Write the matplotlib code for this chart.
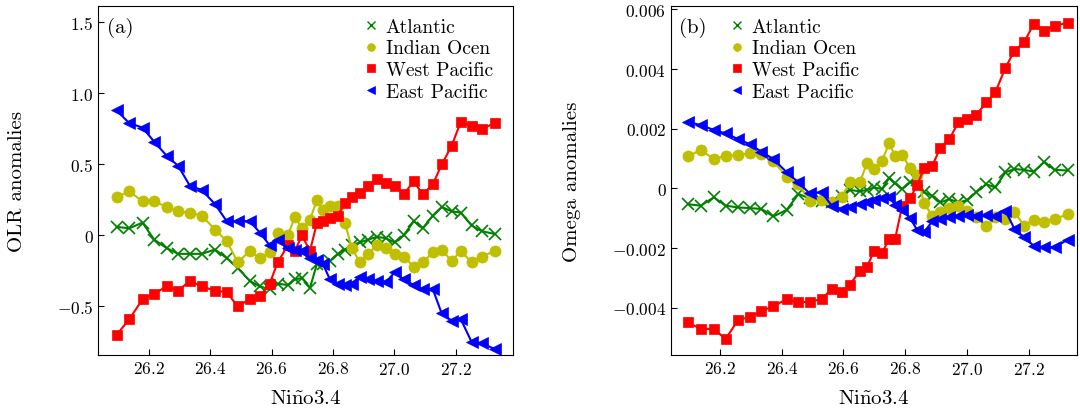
import matplotlib
matplotlib.use("Agg")
import matplotlib.pyplot as plt
from matplotlib.lines import Line2D
from matplotlib.ticker import FixedLocator, FuncFormatter

# LaTeX-like look (Computer Modern)
plt.rcParams['font.family'] = 'serif'
plt.rcParams['font.serif'] = ['cmr10']
plt.rcParams['mathtext.fontset'] = 'cm'
plt.rcParams['axes.formatter.use_mathtext'] = True
plt.rcParams['axes.unicode_minus'] = False
plt.rcParams['font.size'] = 12

# Nino3.4 bins (shared by both panels)
nino34 = [26.096, 26.137, 26.180, 26.218, 26.259, 26.296, 26.334, 26.373, 26.416, 26.454,
          26.490, 26.529, 26.562, 26.594, 26.620, 26.653, 26.676, 26.699, 26.725, 26.748,
          26.767, 26.790, 26.816, 26.839, 26.861, 26.888, 26.914, 26.943, 26.972, 27.001,
          27.030, 27.063, 27.092, 27.125, 27.154, 27.186, 27.216, 27.251, 27.284, 27.326]

series_names = ["Atlantic", "Indian Ocen", "West Pacific", "East Pacific"]

# (a) OLR anomalies
olr_atl = [0.06, 0.05, 0.09, -0.03, -0.09, -0.13, -0.13, -0.13, -0.10, -0.16,
           -0.23, -0.32, -0.36, -0.38, -0.34, -0.35, -0.31, -0.30, -0.37, -0.20,
           -0.20, -0.18, -0.13, -0.10, -0.07, -0.05, -0.03, -0.01, -0.02, -0.05,
           0.00, 0.10, 0.05, 0.14, 0.20, 0.17, 0.16, 0.07, 0.03, 0.01]
olr_ind = [0.27, 0.31, 0.24, 0.24, 0.20, 0.17, 0.16, 0.14, 0.04, -0.04,
           -0.19, -0.11, -0.16, -0.12, 0.02, 0.00, 0.13, 0.05, 0.11, 0.25,
           0.18, 0.21, 0.21, 0.09, -0.09, -0.19, -0.13, -0.07, -0.09, -0.13,
           -0.15, -0.22, -0.19, -0.12, -0.10, -0.18, -0.11, -0.19, -0.15, -0.11]
olr_wp = [-0.70, -0.59, -0.45, -0.41, -0.36, -0.39, -0.32, -0.36, -0.39, -0.40,
          -0.50, -0.45, -0.43, -0.34, -0.19, -0.07, -0.11, 0.00, -0.11, 0.09,
          0.10, 0.12, 0.14, 0.23, 0.27, 0.30, 0.35, 0.40, 0.37, 0.35,
          0.29, 0.38, 0.29, 0.36, 0.50, 0.63, 0.80, 0.77, 0.75, 0.79]
olr_ep = [0.88, 0.79, 0.76, 0.66, 0.56, 0.49, 0.35, 0.32, 0.22, 0.10,
          0.10, 0.10, 0.02, -0.07, -0.03, -0.09, -0.10, -0.11, -0.16, -0.17,
          -0.20, -0.31, -0.34, -0.35, -0.34, -0.29, -0.31, -0.32, -0.33, -0.26,
          -0.31, -0.35, -0.38, -0.38, -0.55, -0.60, -0.59, -0.75, -0.76, -0.80]

# (b) Omega anomalies, in units of 1e-3
omg_atl = [-0.53, -0.58, -0.30, -0.58, -0.64, -0.66, -0.69, -0.94, -0.72, -0.19,
           -0.33, -0.41, -0.45, -0.25, -0.05, -0.10, -0.05, 0.03, -0.02, 0.35,
           0.17, -0.02, 0.20, 0.28, -0.13, -0.25, -0.47, -0.36, -0.47, -0.40,
           -0.13, 0.14, 0.03, 0.54, 0.65, 0.62, 0.56, 0.89, 0.62, 0.60]
omg_ind = [1.07, 1.29, 0.98, 1.09, 1.12, 1.18, 1.15, 0.92, 0.37, 0.14,
           -0.41, -0.38, -0.45, -0.30, 0.20, 0.20, 0.85, 0.65, 0.92, 1.52,
           1.09, 1.12, 0.68, 0.45, -0.50, -0.92, -0.80, -0.67, -0.60, -0.75,
           -0.97, -1.27, -0.97, -1.03, -0.80, -1.25, -1.05, -1.14, -1.03, -0.87]
omg_wp = [-4.49, -4.71, -4.71, -5.05, -4.40, -4.32, -4.11, -3.95, -3.71, -3.82,
          -3.80, -3.71, -3.37, -3.46, -3.24, -2.76, -2.65, -2.09, -2.17, -1.68,
          -1.70, -0.60, -0.33, 0.12, 0.67, 0.76, 1.37, 1.65, 2.21, 2.32,
          2.46, 2.88, 3.22, 4.05, 4.61, 4.91, 5.50, 5.28, 5.45, 5.55]
omg_ep = [2.23, 2.12, 1.96, 1.84, 1.65, 1.48, 1.23, 0.98, 0.54, 0.20,
          -0.17, -0.13, -0.58, -0.69, -0.64, -0.53, -0.45, -0.38, -0.33, -0.30,
          -0.55, -0.72, -1.00, -1.40, -1.47, -1.10, -1.03, -0.97, -0.92, -0.88,
          -0.92, -0.90, -0.92, -0.75, -1.36, -1.64, -1.92, -1.98, -1.98, -1.72]

x_ticks = [26.2, 26.4, 26.6, 26.8, 27.0, 27.2]
olr_ticks = [-0.5, 0, 0.5, 1.0, 1.5]
omg_ticks = [-0.004, -0.002, 0, 0.002, 0.004, 0.006]

colors = ['green', 'y', 'r', 'b']
markers = ['x', 'o', 's', '<']
msizes = [8, 8, 7.5, 8]


def fmt_olr(v, pos):
    return "0" if abs(v) < 1e-12 else "$%.1f$" % v


def fmt_omg(v, pos):
    return "0" if abs(v) < 1e-12 else "$%.3f$" % v


def draw_panel(ax, series, tag, ylabel):
    for ys, c, m, ms in zip(series, colors, markers, msizes):
        ax.plot(nino34, ys, color=c, marker=m, markersize=ms, linewidth=1.5,
                markeredgewidth=1.2 if m == 'x' else 0.5)
    ax.xaxis.set_major_locator(FixedLocator(x_ticks))
    ax.xaxis.set_major_formatter(FuncFormatter(lambda v, p: "$%.1f$" % v))
    ax.tick_params(direction='in', length=4, top=False, right=False, labelsize=12.5)
    ax.set_xlabel(r"Ni$\tilde{\mathrm{n}}$o3.4", fontsize=15, labelpad=9)
    ax.set_ylabel(ylabel, fontsize=15)
    ax.text(0.02, 0.94, tag, transform=ax.transAxes, fontsize=15, va='center')


fig = plt.figure(figsize=(10.8, 4.14), dpi=100)
ax1 = fig.add_axes([0.091, 0.140, 0.384, 0.842])
ax2 = fig.add_axes([0.6213, 0.140, 0.376, 0.842])

draw_panel(ax1, [olr_atl, olr_ind, olr_wp, olr_ep], "(a)", "OLR anomalies")
ax1.set_xlim(26.036, 27.386)
ax1.set_ylim(-0.843, 1.613)
ax1.yaxis.set_major_locator(FixedLocator(olr_ticks))
ax1.yaxis.set_major_formatter(FuncFormatter(fmt_olr))
ax1.yaxis.set_label_coords(-0.174, 0.5)

omg_scaled = [[v * 1e-3 for v in s] for s in [omg_atl, omg_ind, omg_wp, omg_ep]]
draw_panel(ax2, omg_scaled, "(b)", "Omega anomalies")
ax2.set_xlim(26.041, 27.357)
ax2.set_ylim(-0.005585, 0.006097)
ax2.yaxis.set_major_locator(FixedLocator(omg_ticks))
ax2.yaxis.set_major_formatter(FuncFormatter(fmt_omg))
ax2.yaxis.set_label_coords(-0.222, 0.5)

# marker-only legend handles
handles = [Line2D([], [], color=c, marker=m, linestyle='none', markersize=ms * 0.7,
                  markeredgewidth=1.0 if m == 'x' else 0.5)
           for c, m, ms in zip(colors, markers, msizes)]
for ax, bx in [(ax1, 0.623), (ax2, 0.127)]:
    ax.legend(handles, series_names, loc='upper left', bbox_to_anchor=(bx, 0.99),
              frameon=False, fontsize=14, handlelength=0.7, handletextpad=0.4,
              labelspacing=0.2, borderaxespad=0.0)

fig.savefig("out.png", dpi=100)
